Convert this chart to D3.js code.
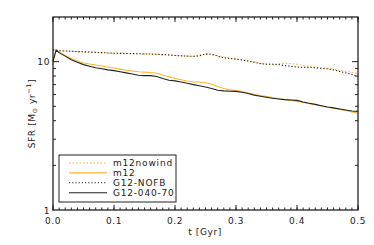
<!DOCTYPE html>
<html><head><meta charset="utf-8">
<script src="https://cdn.jsdelivr.net/npm/d3@7"></script>
<style>body{margin:0;background:#fff}svg{display:block}</style>
</head><body>
<svg id="c" width="374" height="245"></svg>
<script>
const T = [0,0.005,0.01,0.02,0.03,0.04,0.05,0.06,0.07,0.08,0.09,0.10,0.11,0.12,0.13,0.14,0.15,0.16,0.17,0.18,0.19,0.20,0.21,0.22,0.23,0.24,0.25,0.26,0.27,0.28,0.29,0.30,0.31,0.32,0.33,0.34,0.35,0.36,0.37,0.38,0.39,0.40,0.41,0.42,0.43,0.44,0.45,0.46,0.47,0.48,0.49,0.50];
const m12nowind = [12.2,12.0,11.85,11.8,11.75,11.7,11.65,11.6,11.55,11.5,11.45,11.4,11.38,11.35,11.35,11.3,11.28,11.25,11.2,11.15,11.1,11.0,10.95,10.9,10.85,11.0,11.3,11.25,11.0,10.75,10.6,10.45,10.3,10.15,9.95,9.75,9.65,9.6,9.7,9.75,9.7,9.6,9.45,9.35,9.2,9.1,9.0,8.9,8.75,8.6,8.45,8.3];
const m12 = [10.0,11.9,11.6,11.0,10.5,10.1,9.8,9.65,9.5,9.35,9.2,9.07,8.9,8.75,8.65,8.55,8.5,8.45,8.35,8.1,7.9,7.7,7.55,7.4,7.3,7.3,7.2,7.05,6.8,6.6,6.45,6.38,6.3,6.15,6.0,5.9,5.82,5.72,5.62,5.55,5.48,5.4,5.3,5.2,5.12,5.03,4.93,4.85,4.77,4.68,4.58,4.5];
const g12nofb = [12.0,11.95,11.85,11.8,11.75,11.7,11.65,11.6,11.55,11.5,11.45,11.4,11.38,11.35,11.33,11.3,11.28,11.25,11.2,11.15,11.1,11.0,10.95,10.9,10.85,10.95,11.25,11.2,10.9,10.6,10.5,10.4,10.25,10.1,9.9,9.7,9.6,9.6,9.55,9.4,9.3,9.2,9.15,9.15,9.1,9.0,8.95,8.8,8.6,8.4,8.2,7.95];
const g12_040_70 = [10.0,11.95,11.5,10.9,10.3,9.9,9.55,9.3,9.1,8.95,8.8,8.7,8.55,8.4,8.25,8.1,8.05,8.05,7.95,7.7,7.5,7.42,7.3,7.15,7.0,6.88,6.75,6.6,6.42,6.35,6.32,6.3,6.22,6.1,5.95,5.85,5.75,5.66,5.6,5.55,5.52,5.48,5.35,5.25,5.15,5.05,4.95,4.88,4.8,4.72,4.65,4.62];
const seriesNames = ["m12nowind","m12","G12-NOFB","G12-040-70"];
const xTickLabels = ["0.0","0.1","0.2","0.3","0.4","0.5"];
const yTickLabels = ["1","10"];

const ORANGE = "#FFB52E", INK = "#222";
const svg = d3.select("#c");
const L = 53, R = 358, Tp = 17, B = 210;
const x = d3.scaleLinear().domain([0,0.5]).range([L,R]);
const y = d3.scaleLog().domain([1,20]).range([B,Tp]);
const font = "'DejaVu Sans', sans-serif";

const series = [
  {v:m12nowind, c:ORANGE, dash:"1.5,2"},
  {v:m12, c:ORANGE, dash:null},
  {v:g12nofb, c:INK, dash:"1.2,2"},
  {v:g12_040_70, c:INK, dash:null}
];
const line = d3.line().x((d,i)=>x(T[i])).y(d=>y(d));
const g = svg.append("g");
series.forEach(s=>{
  g.append("path").attr("d", line(s.v)).attr("fill","none")
   .attr("stroke", s.c).attr("stroke-width",1.1)
   .attr("stroke-dasharray", s.dash);
});

const xMaj = d3.range(0,0.51,0.1), xMin = d3.range(0,0.501,0.01);
const yMin = [2,3,4,5,6,7,8,9];
const ax = svg.append("g").attr("stroke",INK).attr("stroke-width",1);
xMin.forEach(v=>{
  ax.append("line").attr("x1",x(v)).attr("x2",x(v)).attr("y1",B).attr("y2",B-2.5);
  ax.append("line").attr("x1",x(v)).attr("x2",x(v)).attr("y1",Tp).attr("y2",Tp+2.5);
});
xMaj.forEach(v=>{
  ax.append("line").attr("x1",x(v)).attr("x2",x(v)).attr("y1",B).attr("y2",B-5);
  ax.append("line").attr("x1",x(v)).attr("x2",x(v)).attr("y1",Tp).attr("y2",Tp+5);
});
yMin.forEach(v=>{
  ax.append("line").attr("x1",L).attr("x2",L+3).attr("y1",y(v)).attr("y2",y(v));
  ax.append("line").attr("x1",R).attr("x2",R-3).attr("y1",y(v)).attr("y2",y(v));
});
[10].forEach(v=>{
  ax.append("line").attr("x1",L).attr("x2",L+6).attr("y1",y(v)).attr("y2",y(v));
  ax.append("line").attr("x1",R).attr("x2",R-6).attr("y1",y(v)).attr("y2",y(v));
});
svg.append("rect").attr("x",L).attr("y",Tp).attr("width",R-L).attr("height",B-Tp)
  .attr("fill","none").attr("stroke",INK).attr("stroke-width",1.3);

const tx = svg.append("g").attr("font-family",font).attr("font-size",9).attr("letter-spacing",0.6).attr("fill",INK);
xTickLabels.forEach(t=>{
  tx.append("text").attr("x",x(+t)).attr("y",B+14).attr("text-anchor","middle").text(t);
});
yTickLabels.forEach(t=>{
  tx.append("text").attr("x",L-3).attr("y",y(+t)+3.5).attr("text-anchor","end").text(t);
});
tx.append("text").attr("x",205).attr("y",235).attr("text-anchor","middle").text("t [Gyr]");
const yl = tx.append("text").attr("transform",`translate(35,${(Tp+B)/2}) rotate(-90)`).attr("text-anchor","middle");
yl.append("tspan").text("SFR [M");
yl.append("tspan").attr("font-size",6.5).attr("dy",2).text("\u2299");
yl.append("tspan").attr("dy",-2).text(" yr");
yl.append("tspan").attr("font-size",6.5).attr("dy",-4).text("\u22121");
yl.append("tspan").attr("dy",4).text("]");

const lg = svg.append("g");
lg.append("rect").attr("x",59).attr("y",155).attr("width",117).attr("height",47)
  .attr("fill","#fff").attr("stroke",INK).attr("stroke-width",1);
series.forEach((s,i)=>{
  const yy = 163 + i*9.9;
  lg.append("line").attr("x1",69).attr("x2",107).attr("y1",yy).attr("y2",yy)
    .attr("stroke",s.c).attr("stroke-width",1.1).attr("stroke-dasharray",s.dash);
  lg.append("text").attr("x",113).attr("y",yy+3.3).attr("font-family",font)
    .attr("font-size",9).attr("letter-spacing",0.8).attr("fill",INK).text(seriesNames[i]);
});
</script>
</body></html>
